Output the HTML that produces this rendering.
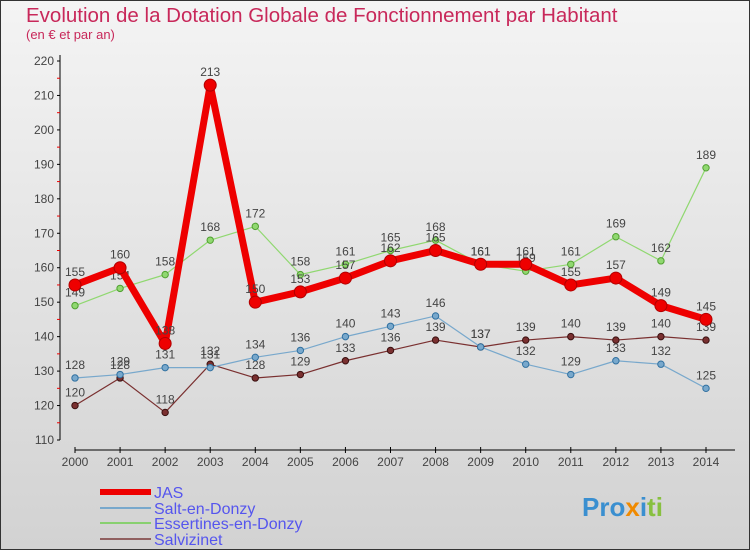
<!DOCTYPE html>
<html><head><meta charset="utf-8"><style>
body{margin:0;width:750px;height:550px;overflow:hidden}
svg{display:block;font-family:"Liberation Sans",sans-serif}
</style></head><body>
<svg width="750" height="550" viewBox="0 0 750 550">
<defs><linearGradient id="bg" x1="0" y1="0" x2="0" y2="1"><stop offset="0" stop-color="#f4f4f4"/><stop offset="1" stop-color="#d2d2d2"/></linearGradient></defs>
<rect x="0.5" y="0.5" width="749" height="549" fill="url(#bg)" stroke="#333"/>
<text x="26" y="22" font-size="20.5" fill="#c8285a">Evolution de la Dotation Globale de Fonctionnement par Habitant</text>
<text x="26" y="39" font-size="13" fill="#c8285a">(en € et par an)</text>
<g id="axes"></g><g id="series"></g>
<g font-size="16" fill="#5555ee">
<line x1="100" y1="492" x2="151" y2="492" stroke="#e00" stroke-width="6"/>
<text x="154" y="498">JAS</text>
<line x1="100" y1="508" x2="151" y2="508" stroke="#78a8cc" stroke-width="2"/>
<text x="154" y="514">Salt-en-Donzy</text>
<line x1="100" y1="523" x2="151" y2="523" stroke="#88d070" stroke-width="2"/>
<text x="154" y="529">Essertines-en-Donzy</text>
<line x1="100" y1="539" x2="151" y2="539" stroke="#906060" stroke-width="2"/>
<text x="154" y="545">Salvizinet</text>
</g>
<text x="582" y="516" font-size="26" font-weight="bold"><tspan fill="#3a8fd0">Pro</tspan><tspan fill="#f08a00">x</tspan><tspan fill="#3a8fd0">i</tspan><tspan fill="#88c040">ti</tspan></text>
</svg>
<script>
const years=[2000,2001,2002,2003,2004,2005,2006,2007,2008,2009,2010,2011,2012,2013,2014];
const yTicks=[110,120,130,140,150,160,170,180,190,200,210,220];
const jas=[155,160,138,213,150,153,157,162,165,161,161,155,157,149,145];
const salt=[128,129,131,131,134,136,140,143,146,137,132,129,133,132,125];
const ess=[149,154,158,168,172,158,161,165,168,161,159,161,169,162,189];
const salv=[120,128,118,132,128,129,133,136,139,137,139,140,139,140,139];
const NS="http://www.w3.org/2000/svg";
const X=i=>75+i*(706-75)/14;
const Y=v=>440-(v-110)*(440-61)/110;
function mk(t,a,p){const e=document.createElementNS(NS,t);for(const k in a)e.setAttribute(k,a[k]);p.appendChild(e);return e;}
const ax=document.getElementById('axes');
const yl=mk('line',{x1:60,y1:55,x2:60,y2:440,stroke:'#000'},ax);


const xl=mk('line',{x1:75,y1:450,x2:735,y2:450,stroke:'#000'},ax);


yTicks.forEach(v=>{
 mk('line',{x1:57,y1:Y(v),x2:60,y2:Y(v),stroke:'#000'},ax);
 if(v<220)mk('line',{x1:57,y1:Y(v+5),x2:60,y2:Y(v+5),stroke:'#e00'},ax);
 const t=mk('text',{x:54,y:Y(v)+4,'text-anchor':'end','font-size':12,fill:'#444'},ax);
 t.textContent=v;
 
 
});
years.forEach((y,i)=>{
 mk('line',{x1:X(i),y1:447,x2:X(i),y2:453,stroke:'#000'},ax);
 const t=mk('text',{x:X(i),y:466,'text-anchor':'middle','font-size':12,fill:'#444'},ax);
 t.textContent=y;
 
 
});
const sg=document.getElementById('series');
function series(d,col,dark,w,r,name){
 const g=mk('g',{},sg);
 
 
 mk('polyline',{points:d.map((v,i)=>X(i)+','+Y(v)).join(' '),fill:'none',stroke:col,'stroke-width':w,'stroke-linejoin':'round'},g);
 d.forEach((v,i)=>{
  const c=mk('circle',{cx:X(i),cy:Y(v),r:r,fill:col,stroke:dark,'stroke-width':1},g);
  
  
  const t=mk('text',{x:X(i),y:Y(v)-9,'text-anchor':'middle','font-size':12,fill:'#444'},g);
  t.textContent=v;
  
  
 });
}
series(salv,'#7a3030','#3a1010',1.2,3.2,'series-salvizinet');
series(salt,'#78a8cc','#3070a0',1.2,3.2,'series-salt');
series(ess,'#90d870','#50a030',1.2,3.2,'series-essertines');
series(jas,'#ee0000','#b00000',7,6,'series-jas');
</script>
</body></html>
